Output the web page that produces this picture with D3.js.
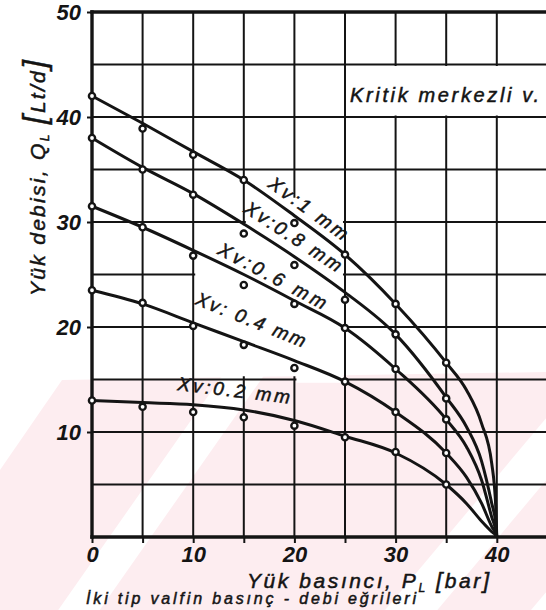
<!DOCTYPE html>
<html>
<head>
<meta charset="utf-8">
<script src="https://cdn.jsdelivr.net/npm/d3@7"></script>
<style>
  html, body { margin: 0; padding: 0; background: #fff; }
  svg { display: block; }
</style>
</head>
<body>
<svg id="chart" width="546" height="610"></svg>
<script>
// ---- data -------------------------------------------------------------
const pressureTicks = [0, 10, 20, 30, 40];          // bar
const pressureMinor = [0, 5, 10, 15, 20, 25, 30, 35, 40];
const flowTicks = [10, 20, 30, 40, 50];             // Lt/d
const openingLabels = ["Xv:1 mm", "Xv:0.8 mm", "Xv:0.6 mm", "Xv: 0.4 mm", "Xv:0.2 mm"];

// measured points (load pressure 0..35 bar)
const measuredPressure = [0, 5, 10, 15, 20, 25, 30, 35];
const measured10 = [42.0, 38.9, 36.4, 34.0, 29.9, 26.9, 22.2, 16.6];
const measured08 = [38.0, 35.0, 32.6, 28.9, 25.9, 22.6, 19.3, 13.2];
const measured06 = [31.5, 29.5, 26.8, 24.0, 22.2, 19.9, 16.0, 11.2];
const measured04 = [23.5, 22.3, 20.1, 18.3, 16.1, 14.8, 11.9, 8.0];
const measured02 = [13.0, 12.4, 11.9, 11.4, 10.6, 9.5, 8.1, 5.0];

// fitted characteristic curves, all closing at 40 bar
const curvePressure = [0, 5, 10, 15, 20, 25, 30, 35, 37, 38.5, 39.5, 39.9, 40];
const curve10 = [42.0, 39.4, 36.7, 34.0, 30.6, 26.9, 22.2, 16.6, 14.0, 10.8, 7.0, 2.8, 0];
const curve08 = [38.0, 35.2, 32.7, 29.8, 26.7, 23.3, 19.3, 13.3, 10.5, 7.2, 3.2, 1.3, 0];
const curve06 = [31.5, 29.5, 27.3, 25.0, 22.5, 19.9, 16.0, 11.2, 8.6, 5.4, 1.9, 0.6, 0];
const curve04 = [23.5, 22.2, 20.4, 18.6, 16.8, 14.8, 11.9, 8.0, 5.7, 3.2, 1.0, 0.3, 0];
const curve02 = [13.0, 12.8, 12.6, 12.1, 11.1, 9.6, 8.0, 5.0, 3.2, 1.5, 0.5, 0.15, 0];

const curves = [curve10, curve08, curve06, curve04, curve02];
const measured = [measured10, measured08, measured06, measured04, measured02];

// ---- layout -----------------------------------------------------------
const W = 546, H = 610;
const INK = "#141414";
const FONT = "'Liberation Sans', Arial, sans-serif";

const x = d3.scaleLinear().domain([0, 50]).range([92, 598]);
const y = d3.scaleLinear().domain([0, 50]).range([537, 12]);

const svg = d3.select("#chart");
svg.append("rect").attr("width", W).attr("height", H).attr("fill", "#fff");

// faint pink watermark in the lower part of the sheet
const wm = svg.append("g");
wm.append("polygon")
  .attr("points", [[0, 470], [62, 380], [W, 372], [W, H], [0, H]].map(p => p.join(",")).join(" "))
  .attr("fill", "#fdedf0");
[[135, 530, 55, 34], [470, 540, 50, 40], [548, 610, 50, 26]].forEach(([cx, cy, ang, w]) => {
  wm.append("rect")
    .attr("x", -260).attr("y", -w / 2).attr("width", 520).attr("height", w)
    .attr("transform", `translate(${cx},${cy}) rotate(${-ang})`)
    .attr("fill", "#fff");
});

// ---- grid -------------------------------------------------------------
const grid = svg.append("g").attr("stroke", INK).attr("stroke-width", 2);
d3.range(5, 50, 5).forEach(p => {
  grid.append("line")
    .attr("x1", x(p)).attr("x2", x(p)).attr("y1", y(0)).attr("y2", y(50));
});
d3.range(5, 50, 5).forEach(q => {
  grid.append("line")
    .attr("x1", x(0)).attr("x2", W).attr("y1", y(q)).attr("y2", y(q));
});

// cleared areas behind the curve labels and the note box
const mask = svg.append("g").attr("fill", "#fff");
const maskPoly = [[10.2, 15.3], [10.2, 29.7], [15.2, 29.7], [15.2, 32.3], [24.8, 32.3],
                  [24.8, 14.7], [20.2, 14.7], [20.2, 15.3]];
mask.append("polygon")
  .attr("points", maskPoly.map(([p, q]) => `${x(p)},${y(q)}`).join(" "));
mask.append("rect")
  .attr("x", x(25) + 1.5).attr("y", y(45) + 1.5)
  .attr("width", W - x(25)).attr("height", y(40) - y(45) - 3);

// frame
const frame = svg.append("g").attr("stroke", INK).attr("stroke-width", 3.4).attr("stroke-linecap", "square");
frame.append("line").attr("x1", x(0)).attr("x2", W).attr("y1", y(50)).attr("y2", y(50));
frame.append("line").attr("x1", x(0)).attr("x2", x(0)).attr("y1", y(0)).attr("y2", y(50));
frame.append("line").attr("x1", x(0)).attr("x2", W).attr("y1", y(0)).attr("y2", y(0));

// ---- axes -------------------------------------------------------------
const xAxis = svg.append("g")
  .attr("transform", `translate(0,${y(0)})`)
  .call(d3.axisBottom(x).tickValues(pressureMinor).tickSize(6).tickPadding(3)
    .tickFormat(d => pressureTicks.includes(d) ? d : ""));
const yAxis = svg.append("g")
  .attr("transform", `translate(${x(0)},0)`)
  .call(d3.axisLeft(y).tickValues(flowTicks).tickSize(5).tickPadding(6));
[xAxis, yAxis].forEach(g => {
  g.select(".domain").remove();
  g.selectAll(".tick line").attr("stroke", INK).attr("stroke-width", 2);
  g.selectAll(".tick text")
    .attr("fill", INK)
    .style("font-family", FONT)
    .style("font-size", "22px")
    .style("font-weight", "bold")
    .style("font-style", "italic");
});

// ---- curves and points ------------------------------------------------
const line = d3.line()
  .x((d, i) => x(curvePressure[i]))
  .y(d => y(d))
  .curve(d3.curveMonotoneX);

svg.append("g").selectAll("path")
  .data(curves)
  .join("path")
  .attr("d", line)
  .attr("fill", "none")
  .attr("stroke", INK)
  .attr("stroke-width", 3)
  .attr("stroke-linejoin", "round");

const pts = svg.append("g");
measured.forEach(series => {
  pts.selectAll(null)
    .data(series)
    .join("circle")
    .attr("cx", (d, i) => x(measuredPressure[i]))
    .attr("cy", d => y(d))
    .attr("r", 3.1)
    .attr("fill", "#fff")
    .attr("stroke", INK)
    .attr("stroke-width", 2.4);
});

// ---- text -------------------------------------------------------------
function label(g) {
  return g.attr("fill", INK)
    .attr("stroke", INK).attr("stroke-width", 0.5)
    .style("font-family", FONT)
    .style("font-style", "italic");
}

// curve labels: baseline start (bar, Lt/d), angle, run length
const labelPlacement = [
  [17.3, 33.4, 36, 93],
  [14.9, 31.0, 33, 112],
  [12.3, 27.0, 28, 120],
  [10.1, 22.2, 22, 117],
  [8.4, 14.0, 7, 113]
];
openingLabels.forEach((t, i) => {
  const [p, q, ang, len] = labelPlacement[i];
  label(svg.append("text"))
    .attr("transform", `translate(${x(p)},${y(q)}) rotate(${ang})`)
    .attr("textLength", len)
    .attr("lengthAdjust", "spacing")
    .style("font-size", "19px")
    .text(t);
});

// note in the box
label(svg.append("text"))
  .attr("x", 350).attr("y", 102)
  .attr("textLength", 189).attr("lengthAdjust", "spacing")
  .style("font-size", "20px")
  .text("Kritik  merkezli v.");

// x-axis title
const xt = label(svg.append("text"))
  .attr("x", 247).attr("y", 588)
  .attr("textLength", 242).attr("lengthAdjust", "spacing")
  .style("font-size", "21px");
xt.append("tspan").text("Yük basıncı, P");
xt.append("tspan").attr("dy", 4).style("font-size", "12px").text("L");
xt.append("tspan").attr("dy", -4).text("  ");
xt.append("tspan").style("font-size", "22px").text("[");
xt.append("tspan").text("bar");
xt.append("tspan").style("font-size", "22px").text("]");

// y-axis title
const yt = label(svg.append("text"))
  .attr("transform", "translate(45,296) rotate(-90)")
  .attr("textLength", 236).attr("lengthAdjust", "spacing")
  .style("font-size", "21px");
yt.append("tspan").text("Yük debisi, Q");
yt.append("tspan").attr("dy", 4).style("font-size", "12px").text("L");
yt.append("tspan").attr("dy", -4).text(" ");
yt.append("tspan").style("font-size", "32px").text("[");
yt.append("tspan").text("Lt/d");
yt.append("tspan").style("font-size", "32px").text("]");

// caption line along the bottom edge
label(svg.append("text"))
  .attr("x", 86).attr("y", 604)
  .attr("textLength", 330).attr("lengthAdjust", "spacing")
  .style("font-size", "16px")
  .text("İki tip valfin basınç - debi eğrileri");
</script>
</body>
</html>
